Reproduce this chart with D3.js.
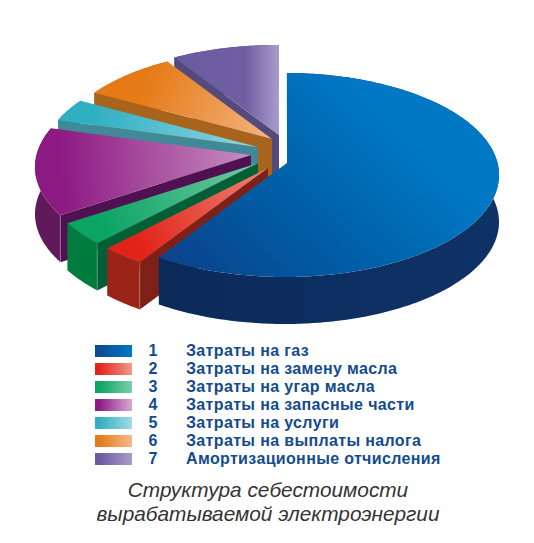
<!DOCTYPE html>
<html><head><meta charset="utf-8">
<script src="https://cdn.jsdelivr.net/npm/d3@7"></script>
<style>html,body{margin:0;padding:0;background:#fff}svg{display:block}</style>
</head><body><svg id="c" width="534" height="543"></svg>
<script>
// --- data
const ids = [1,2,3,4,5,6,7];
const labels = ["Затраты на газ","Затраты на замену масла","Затраты на угар масла","Затраты на запасные части","Затраты на услуги","Затраты на выплаты налога","Амортизационные отчисления"];
const shares = [59.9,3.27,3.86,14.05,3.47,7.36,8.1];
const titleLines = ["Структура себестоимости","вырабатываемой электроэнергии"];
// --- style
const topOuter = ["#0c3f88","#e2231a","#0aa463","#8c1a82","#2fafc2","#e57a17","#6a5a9f"];
const topInner = ["#0078c4","#ee8474","#73c9a4","#c88cc0","#90d6e0","#f4b582","#a99ccb"];
const sideFront = ["#0c2b5c","#9c2318","#007d3e","#601a5c","#3f8a96","#a8641c","#544a7c"];
const sideWall  = ["#0c2b5c","#7e2018","#005f34","#4f114f","#3f8a96","#a8641c","#544a7c"];
const legendSwatchOuter = ["#0c4a94","#e2231a","#0aa463","#8c1a82","#2fafc2","#e57a17","#6a5a9f"];
const legendSwatchInner = ["#0078c4","#f09a8c","#7ccfa9","#d9a9d2","#a0dce4","#f6b98a","#a99ccb"];
// --- layout
const cx=285, cy=175, rx=214, ry=102, depth=47, apexDx=2, apexDy=-12;
const shiftX=[0,-19,-29,-36,-29,-15,-8];
const shiftY=[0,5,0,-8,-16,-24,-28];

const svg=d3.select("#c");
const defs=svg.append("defs");
const pie=d3.pie().sort(null).startAngle(0.009).endAngle(2*Math.PI+0.009);
const arcs=pie(shares);
const line=d3.line();

arcs.forEach((a,i)=>{
  const X=t=>cx+shiftX[i]+rx*Math.sin(t), Y=t=>cy+shiftY[i]-ry*Math.cos(t);
  const ax=cx+shiftX[i]+apexDx, ay=cy+shiftY[i]+apexDy;
  a.X=X;a.Y=Y;a.ax=ax;a.ay=ay;
  const n=Math.max(4,Math.ceil((a.endAngle-a.startAngle)/0.015));
  a.pts=d3.range(n+1).map(k=>{const t=a.startAngle+(a.endAngle-a.startAngle)*k/n;return [X(t),Y(t)]});
  const mid=(a.startAngle+a.endAngle)/2;
  const g=defs.append("linearGradient").attr("id","g"+i).attr("gradientUnits","userSpaceOnUse");
  if(i===0){ g.attr("x1",170).attr("y1",290).attr("x2",360).attr("y2",90);
    g.append("stop").attr("offset",0).attr("stop-color",topOuter[0]);
    g.append("stop").attr("offset",0.55).attr("stop-color","#005fa8");
    g.append("stop").attr("offset",1).attr("stop-color",topInner[0]);
  } else if(i===6){ g.attr("x1",X(a.startAngle)).attr("y1",0).attr("x2",ax).attr("y2",0);
    g.append("stop").attr("offset",0).attr("stop-color",topOuter[6]);
    g.append("stop").attr("offset",0.68).attr("stop-color","#6f5fa2");
    g.append("stop").attr("offset",1).attr("stop-color",topInner[6]);
  } else { g.attr("x1",X(mid)).attr("y1",Y(mid)).attr("x2",ax).attr("y2",ay);
    g.append("stop").attr("offset",0.12).attr("stop-color",topOuter[i]);
    g.append("stop").attr("offset",1).attr("stop-color",topInner[i]);
  }
  const lg=defs.append("linearGradient").attr("id","lg"+i);
  lg.append("stop").attr("offset",0.1).attr("stop-color",legendSwatchOuter[i]);
  lg.append("stop").attr("offset",1).attr("stop-color",legendSwatchInner[i]);
});

const sideShade=defs.append("linearGradient").attr("id","sideBlue").attr("gradientUnits","userSpaceOnUse")
  .attr("x1",160).attr("x2",500).attr("y1",0).attr("y2",0);
sideShade.append("stop").attr("offset",0).attr("stop-color","#0b2a5a");
sideShade.append("stop").attr("offset",1).attr("stop-color","#0f3266");

// paint back to front: last slice first, the big slice on top
const order=[6,5,4,3,2,1,0];
order.forEach(i=>{
  const a=arcs[i], G=svg.append("g");
  const sx=a.X(a.startAngle), sy=a.Y(a.startAngle);
  const low=a.pts.slice().reverse().map(p=>[p[0],p[1]+depth]);
  G.append("path").attr("d",line(a.pts.concat(low))+"Z").attr("fill",i===0?"url(#sideBlue)":sideFront[i]);
  if(i>0) G.append("path").attr("d",line([[a.ax,a.ay],[sx,sy],[sx,sy+depth],[a.ax,a.ay+depth]])+"Z").attr("fill",sideWall[i]);
  if(i>0&&i<4) G.append("path").attr("d",line([[sx,sy],[sx,sy+depth]])).attr("stroke","#ffffff").attr("stroke-opacity",.35).attr("stroke-width",.7);
  G.append("path").attr("d",line([[a.ax,a.ay]].concat(a.pts))+"Z").attr("fill","url(#g"+i+")");
});

// legend
const rowY=d3.scalePoint().domain(ids).range([345,453]);
const leg=svg.append("g").selectAll("g").data(ids).join("g").attr("transform",d=>`translate(0,${rowY(d)})`);
leg.append("rect").attr("x",95).attr("y",0).attr("width",37).attr("height",12).attr("fill",(d,i)=>`url(#lg${i})`);
const tf="'Liberation Sans',Arial,sans-serif";
leg.append("text").attr("x",153).attr("y",10.5).attr("text-anchor","middle").attr("font-family",tf).attr("font-weight","bold").attr("font-size",16).attr("fill","#134b8e").text(d=>d);
leg.append("text").attr("x",186).attr("y",10.5).attr("font-family",tf).attr("font-weight","bold").attr("font-size",16).attr("fill","#134b8e").attr("letter-spacing",0.35).text((d,i)=>labels[i]);
// caption
svg.append("g").selectAll("text").data(titleLines).join("text")
 .attr("x",268).attr("y",(d,i)=>497+i*23.5).attr("text-anchor","middle")
 .attr("font-family",tf).attr("font-style","italic").attr("font-size",20.8).attr("fill","#333").text(d=>d);
</script></body></html>
